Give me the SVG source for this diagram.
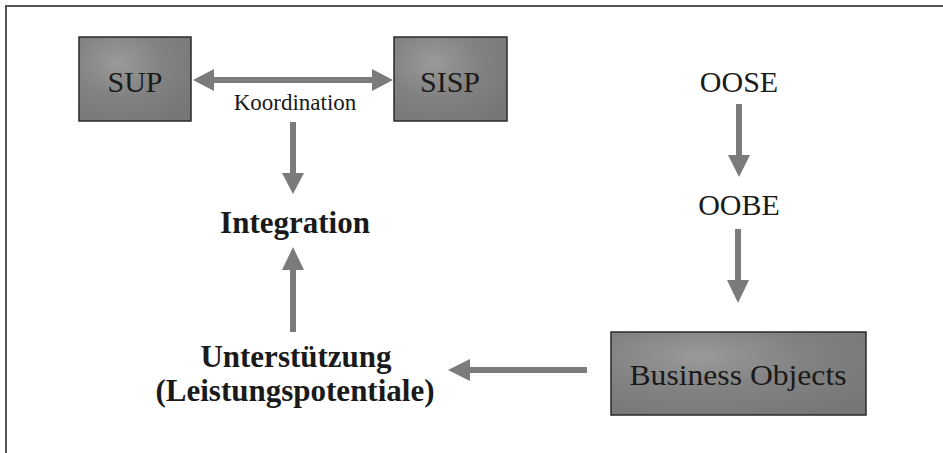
<svg xmlns="http://www.w3.org/2000/svg" width="943" height="453" viewBox="0 0 943 453">
<defs>
<radialGradient id="boxfill" cx="0.35" cy="0.3" r="0.8">
<stop offset="0" stop-color="#9a9a9a"/>
<stop offset="0.5" stop-color="#828282"/>
<stop offset="1" stop-color="#777"/>
</radialGradient>
<style>
.box{fill:url(#boxfill);stroke:#2a2a2a;stroke-width:1.5}
.arr{fill:#7b7b7b}
.t{font-family:"Liberation Serif","Times New Roman",serif;fill:#1a1a1a;text-anchor:middle}
.b{font-weight:bold}
</style>
</defs>
<rect width="943" height="453" fill="#ffffff"/>
<path d="M6,453 V6 H943" fill="none" stroke="#555" stroke-width="2"/>
<g id="connectors">
<polygon class="arr" points="193,80 214,69 214,77 372,77 372,69 393,80 372,91 372,83 214,83 214,91"/>
<polygon class="arr" points="290,122 296,122 296,173 304,173 293,194 282,173 290,173"/>
<polygon class="arr" points="290,332 296,332 296,270 304,270 293,247 282,270 290,270"/>
<polygon class="arr" points="736,104 742,104 742,155 750,155 739,177 728,155 736,155"/>
<polygon class="arr" points="735,229 741,229 741,280 749,280 738,303 727,280 735,280"/>
<polygon class="arr" points="587,367 587,373 470,373 470,381 448,370 470,359 470,367"/>
</g>
<g id="sup">
<rect class="box" x="79" y="37" width="112" height="84"/>
<text class="t" x="135" y="92" font-size="30">SUP</text>
</g>
<g id="sisp">
<rect class="box" x="394" y="37" width="113" height="84"/>
<text class="t" x="450" y="92" font-size="30">SISP</text>
</g>
<g id="koordination">
<text class="t" x="295" y="110" font-size="23">Koordination</text>
</g>
<g id="integration">
<text class="t b" x="295" y="233" font-size="31">Integration</text>
</g>
<g id="unterstuetzung">
<text class="t b" x="296" y="367" font-size="31">Unterstützung</text>
<text class="t b" x="295" y="401" font-size="31">(Leistungspotentiale)</text>
</g>
<g id="oose">
<text class="t" x="739" y="92" font-size="30">OOSE</text>
</g>
<g id="oobe">
<text class="t" x="739" y="215" font-size="30">OOBE</text>
</g>
<g id="business-objects">
<rect class="box" x="611" y="332" width="255" height="83"/>
<text class="t" x="738" y="385" font-size="30" textLength="217" lengthAdjust="spacingAndGlyphs">Business Objects</text>
</g>
</svg>
